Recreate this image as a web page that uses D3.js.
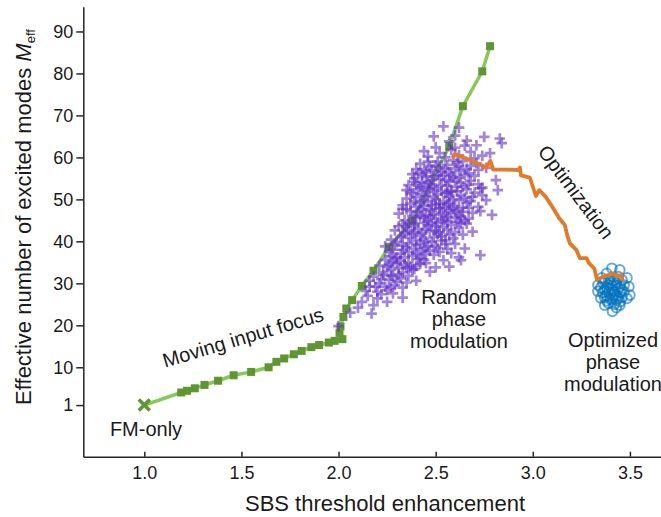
<!DOCTYPE html>
<html>
<head>
<meta charset="utf-8">
<script src="https://cdn.jsdelivr.net/npm/d3@7"></script>
<style>
  html, body { margin: 0; padding: 0; background: #fff; }
  svg { display: block; }
  text { font-family: "Liberation Sans", Arial, Helvetica, sans-serif; fill: #1a1a1a; }
</style>
</head>
<body>
<svg id="chart" width="661" height="517"></svg>
<script>
// ---------- data ----------
const xTicks = [1.0, 1.5, 2.0, 2.5, 3.0, 3.5];
const yTicks = [1, 10, 20, 30, 40, 50, 60, 70, 80, 90];

const fmOnlyX = [1.0];
const fmOnlyY = [1.0];

const focusX = [1.0, 1.19, 1.22, 1.26, 1.31, 1.38, 1.46, 1.55, 1.64, 1.68, 1.72, 1.77, 1.81, 1.86, 1.90, 1.95, 1.98, 2.02, 2.005, 2.01, 2.025, 2.04, 2.07, 2.12, 2.18, 2.26, 2.38, 2.57, 2.64, 2.74, 2.78];
const focusY = [1.0, 4.0, 4.4, 5.0, 5.8, 6.8, 8.1, 8.9, 10.0, 11.3, 12.1, 13.1, 13.9, 14.8, 15.3, 15.9, 16.3, 16.7, 18.2, 19.7, 22.0, 24.0, 26.0, 29.4, 33.0, 38.7, 44.9, 62.7, 72.2, 80.5, 86.5];

const randomPts = [
  [2.54,67.4],[2.62,67.1],[2.75,64.9],[2.83,64.5],[2.84,63.4],[2.60,65.2],[2.57,63.8],[2.66,64.0],[2.49,65.0],
  [2.71,62.9],[2.65,62.8],[2.78,61.0],[2.52,61.0],[2.58,61.8],[2.62,60.5],[2.68,61.3],[2.46,60.2],[2.55,60.0],[2.74,60.4],[2.60,62.3],[2.50,62.4],[2.70,59.8],[2.44,61.5],
  [2.42,58.5],[2.47,57.8],[2.51,59.0],[2.56,58.2],[2.60,57.4],[2.64,59.1],[2.68,58.0],[2.72,57.0],[2.45,56.4],[2.53,56.6],[2.58,55.9],[2.63,56.8],[2.67,56.2],[2.40,57.2],[2.49,55.5],[2.71,58.6],[2.76,57.5],[2.55,57.3],[2.38,56.0],[2.61,58.8],
  [2.39,55.0],[2.43,54.2],[2.47,53.6],[2.52,54.8],[2.56,53.2],[2.60,54.5],[2.64,53.0],[2.68,54.4],[2.72,53.6],[2.81,54.6],[2.82,52.2],[2.36,53.4],[2.41,52.4],[2.45,55.4],[2.50,52.6],[2.54,55.6],[2.58,52.1],[2.62,55.2],[2.66,52.4],[2.70,55.6],[2.74,52.8],[2.39,54.2],[2.44,53.0],[2.48,54.6],[2.53,53.4],[2.57,54.2],[2.61,53.0],[2.35,52.2],[2.73,52.6],
  [2.35,50.2],[2.38,51.4],[2.42,49.2],[2.45,50.8],[2.48,48.6],[2.51,51.2],[2.54,49.6],[2.57,50.6],[2.60,48.4],[2.63,51.0],[2.66,49.2],[2.69,50.6],[2.72,48.2],[2.76,49.8],[2.33,48.6],[2.40,48.2],[2.46,51.8],[2.52,48.0],[2.58,51.8],[2.64,48.0],[2.70,51.6],[2.44,49.8],[2.50,50.0],[2.56,48.8],[2.62,49.8],[2.37,49.0],[2.67,48.0],[2.74,51.0],
  [2.31,46.6],[2.34,45.0],[2.37,47.2],[2.40,45.6],[2.43,47.6],[2.46,44.8],[2.49,46.4],[2.52,47.8],[2.55,45.2],[2.58,46.8],[2.61,44.6],[2.64,47.0],[2.67,45.4],[2.79,46.3],[2.73,47.2],[2.33,47.8],[2.39,44.2],[2.45,46.2],[2.51,44.4],[2.57,47.4],[2.63,45.8],[2.69,46.8],[2.42,46.0],[2.48,47.2],[2.54,46.2],[2.60,45.6],[2.36,44.4],[2.66,44.2],
  [2.29,42.6],[2.32,41.0],[2.35,43.4],[2.38,41.8],[2.41,43.0],[2.44,40.6],[2.47,42.4],[2.50,43.6],[2.53,41.2],[2.56,42.8],[2.59,40.7],[2.62,43.2],[2.69,42.3],[2.27,40.4],[2.34,42.0],[2.40,40.2],[2.46,43.8],[2.52,42.2],[2.58,43.9],[2.64,41.6],[2.37,40.8],[2.43,42.0],[2.49,41.0],[2.55,40.2],[2.31,43.6],
  [2.26,37.5],[2.29,39.2],[2.32,37.0],[2.35,38.6],[2.38,36.6],[2.40,39.1],[2.43,37.6],[2.46,38.8],[2.49,36.8],[2.52,37.5],[2.55,39.4],[2.65,38.3],[2.73,36.7],[2.24,38.8],[2.30,36.2],[2.36,39.6],[2.42,36.0],[2.48,39.8],[2.58,37.2],[2.62,36.2],[2.33,38.0],[2.45,37.0],[2.51,38.4],[2.27,36.4],
  [2.21,34.2],[2.24,35.6],[2.27,33.2],[2.30,34.8],[2.33,32.6],[2.36,35.0],[2.39,33.4],[2.42,34.6],[2.45,34.8],[2.50,33.8],[2.54,35.5],[2.57,34.0],[2.63,35.5],[2.38,33.2],[2.23,32.6],[2.29,36.0],[2.35,33.8],[2.41,35.8],[2.47,32.8],[2.26,34.4],[2.32,35.4],
  [2.16,30.6],[2.19,29.2],[2.21,30.0],[2.23,32.0],[2.26,30.8],[2.29,29.6],[2.32,31.2],[2.35,30.2],[2.16,29.2],[2.25,28.4],[2.18,31.6],[2.33,29.0],[2.28,31.8],[2.40,30.6],[2.14,28.2],
  [2.12,25.6],[2.15,27.0],[2.25,25.6],[2.28,27.6],[2.20,26.4],[2.10,24.2],[2.18,24.8],[2.22,27.4],[2.33,26.6],[2.06,23.0],
  [2.00,19.8],[2.17,22.8],
  // dense core
  [2.41,56.3],[2.44,57.1],[2.48,56.9],[2.52,57.6],[2.57,56.5],[2.62,57.9],[2.66,57.3],[2.50,58.1],[2.59,59.3],[2.46,59.0],
  [2.40,53.7],[2.43,55.8],[2.46,54.0],[2.49,53.1],[2.51,55.9],[2.55,54.6],[2.59,55.3],[2.63,54.0],[2.67,53.5],[2.65,55.8],[2.56,51.6],[2.53,52.0],
  [2.37,51.8],[2.40,50.6],[2.43,51.2],[2.46,49.4],[2.49,50.6],[2.52,49.0],[2.55,51.4],[2.59,50.0],[2.61,51.9],[2.65,50.4],[2.68,49.6],[2.47,52.4],[2.42,52.9],[2.57,49.2],[2.61,47.4],
  [2.35,47.6],[2.38,46.0],[2.41,47.0],[2.44,45.6],[2.47,47.6],[2.50,45.4],[2.53,46.8],[2.56,45.8],[2.59,47.8],[2.62,46.2],[2.65,45.0],[2.44,48.4],[2.50,48.8],[2.55,48.2],[2.39,49.6],[2.47,46.0],[2.53,44.8],
  [2.33,44.0],[2.36,42.6],[2.39,43.6],[2.42,41.4],[2.45,42.8],[2.48,44.2],[2.51,41.8],[2.54,43.4],[2.57,41.6],[2.60,42.2],[2.63,44.4],[2.44,44.4],[2.50,42.6],[2.39,42.2],[2.56,44.6],[2.33,41.4],
  [2.30,39.8],[2.33,39.0],[2.36,37.4],[2.39,38.2],[2.42,39.4],[2.45,40.0],[2.47,37.8],[2.50,39.0],[2.53,40.2],[2.56,38.2],[2.60,39.4],[2.34,36.2],[2.40,37.0],[2.44,38.4],[2.28,38.0],
  [2.25,34.0],[2.28,35.0],[2.31,33.6],[2.34,34.4],[2.37,33.8],[2.40,34.2],[2.44,35.6],[2.31,32.2],[2.27,31.8],[2.36,31.8],[2.22,31.0],[2.30,30.4],[2.24,29.2],[2.20,28.0],[2.27,29.0]
];

const optimX = [2.587, 2.599, 2.676, 2.761, 2.782, 2.796, 2.856, 2.925, 2.934, 2.939, 2.985, 2.998, 3.016, 3.033, 3.067, 3.105, 3.136, 3.165, 3.177, 3.191, 3.225, 3.242, 3.277, 3.289, 3.317, 3.330, 3.366, 3.414, 3.433, 3.457, 3.462];
const optimY = [59.8, 60.8, 59.4, 57.6, 59.2, 57.1, 57.1, 57.0, 57.6, 55.7, 55.2, 53.3, 50.8, 52.2, 50.6, 47.9, 45.5, 43.9, 41.5, 39.5, 37.9, 36.0, 36.0, 34.8, 33.5, 30.9, 31.6, 32.4, 31.6, 32.0, 30.6];

const optimizedPts = [
  [3.407,33.6],[3.448,33.2],[3.38,32.4],[3.355,31.3],[3.485,31.3],[3.335,29.6],[3.495,29.2],[3.335,28.1],[3.50,27.2],[3.35,26.5],[3.485,26.4],[3.37,24.8],[3.448,24.8],[3.41,23.3],[3.43,24.2],
  [3.37,30.4],[3.40,31.0],[3.43,30.2],[3.46,30.8],[3.38,29.0],[3.41,29.4],[3.44,28.8],[3.47,29.6],[3.36,27.8],[3.39,28.0],[3.42,27.4],[3.45,27.8],[3.37,26.6],[3.40,26.2],[3.43,26.0],[3.46,26.6],[3.39,25.2],[3.42,25.0],[3.40,30.0],[3.44,31.6],[3.35,29.0],[3.47,28.0],[3.38,27.0],[3.41,28.4],[3.43,29.6],[3.36,30.2],[3.45,25.6],
  [3.39,29.6],[3.42,30.6],[3.45,29.2],[3.40,27.6],[3.43,27.0],[3.37,28.4],[3.41,26.6],[3.44,26.4],[3.46,28.4],[3.39,30.8],[3.42,28.0],[3.38,25.8]
];

// ---------- layout ----------
const svg = d3.select("#chart");
const x = d3.scaleLinear().domain([0.686, 3.66]).range([83.3, 661]);
const y = d3.scaleLinear().domain([-11.3, 95.9]).range([456.7, 6.7]);

// axes
const xAxis = svg.append("g").attr("transform", `translate(0,${y(-11.3)})`)
  .call(d3.axisBottom(x).tickValues(xTicks).tickFormat(d3.format(".1f"))
        .tickSizeInner(-5).tickSizeOuter(0).tickPadding(10));
const yAxis = svg.append("g").attr("transform", `translate(${x(0.686)},0)`)
  .call(d3.axisLeft(y).tickValues(yTicks).tickSizeInner(7).tickSizeOuter(0).tickPadding(3));
[xAxis, yAxis].forEach(g => {
  g.selectAll("path, line").attr("stroke", "#262626").attr("stroke-width", 1.5);
  g.selectAll("text").attr("font-size", 18).attr("fill", "#1a1a1a")
    .style("font-family", '"Liberation Sans", Arial, sans-serif');
});

// axis labels
svg.append("text").attr("x", 385).attr("y", 511).attr("text-anchor", "middle")
  .attr("font-size", 22).text("SBS threshold enhancement");
const yl = svg.append("text").attr("transform", "translate(31,217) rotate(-90)")
  .attr("text-anchor", "middle").attr("font-size", 22);
yl.append("tspan").text("Effective number of excited modes ");
yl.append("tspan").attr("font-style", "italic").text("M");
yl.append("tspan").attr("font-size", 13).attr("dy", 4).text("eff");

// green line (moving input focus)
const focusData = focusX.map((v, i) => [v, focusY[i]]);
const line = d3.line().x(d => x(d[0])).y(d => y(d[1]));
svg.append("path").datum(focusData).attr("d", line)
  .attr("fill", "none").attr("stroke", "#86c95a").attr("stroke-width", 3.5);
svg.append("g").selectAll("rect").data(focusData.slice(1)).join("rect")
  .attr("x", d => x(d[0]) - 4).attr("y", d => y(d[1]) - 4)
  .attr("width", 8).attr("height", 8).attr("fill", "#5f9632");
svg.append("g").selectAll("path").data(fmOnlyX.map((v, i) => [v, fmOnlyY[i]])).join("path")
  .attr("d", d => { const cx = x(d[0]), cy = y(d[1]), s = 5.5;
    return `M${cx-s},${cy-s}L${cx+s},${cy+s}M${cx-s},${cy+s}L${cx+s},${cy-s}`; })
  .attr("stroke", "#5f9632").attr("stroke-width", 3.5).attr("fill", "none");

// random phase modulation scatter
svg.append("g").selectAll("path").data(randomPts).join("path")
  .attr("d", d => { const cx = x(d[0]), cy = y(d[1]), s = 5.3;
    return `M${cx-s},${cy}H${cx+s}M${cx},${cy-s}V${cy+s}`; })
  .attr("stroke", "#6234c6").attr("stroke-width", 2.7).attr("stroke-opacity", 0.6).attr("fill", "none");

// optimized circles
svg.append("g").selectAll("circle").data(optimizedPts).join("circle")
  .attr("cx", d => x(d[0])).attr("cy", d => y(d[1])).attr("r", 4.8)
  .attr("fill", "none").attr("stroke", "#0072bd").attr("stroke-width", 2).attr("stroke-opacity", 0.6);

// optimization path
const optData = optimX.map((v, i) => [v, optimY[i]]);
svg.append("path").datum(optData).attr("d", line)
  .attr("fill", "none").attr("stroke", "#e07b2a").attr("stroke-width", 3.8)
  .attr("stroke-linejoin", "round");

// annotations
svg.append("text").attr("x", 146).attr("y", 436).attr("text-anchor", "middle")
  .attr("font-size", 20).text("FM-only");
svg.append("text").attr("transform", "translate(245,344) rotate(-16.5)")
  .attr("text-anchor", "middle").attr("font-size", 20).text("Moving input focus");
const rnd = svg.append("text").attr("text-anchor", "middle").attr("font-size", 20);
["Random", "phase", "modulation"].forEach((t, i) =>
  rnd.append("tspan").attr("x", 459).attr("y", 304 + i * 22).text(t));
const opt = svg.append("text").attr("text-anchor", "middle").attr("font-size", 20);
["Optimized", "phase", "modulation"].forEach((t, i) =>
  opt.append("tspan").attr("x", 613).attr("y", 347 + i * 22).text(t));
svg.append("text").attr("transform", "translate(576,192) rotate(53)")
  .attr("text-anchor", "middle").attr("dominant-baseline", "central")
  .attr("font-size", 20).text("Optimization");
</script>
</body>
</html>
